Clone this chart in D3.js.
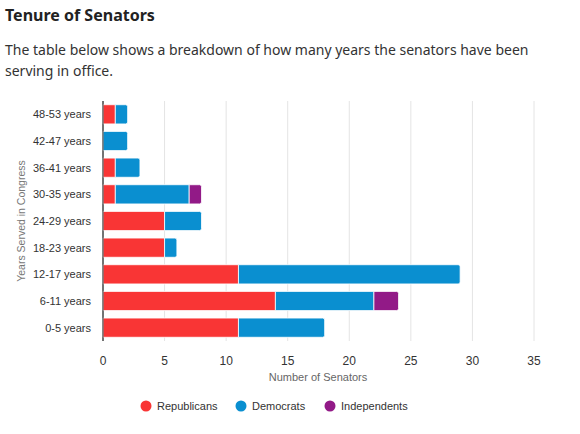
<!DOCTYPE html>
<head>
<meta charset="utf-8">
<script src="https://cdn.jsdelivr.net/npm/d3@7"></script>
<style>
body { margin:0; background:#fff; font-family:"Noto Sans", sans-serif; }
</style>
</head>
<body>
<svg width="580" height="434"></svg>
<script>
var categories = ["48-53 years","42-47 years","36-41 years","30-35 years","24-29 years","18-23 years","12-17 years","6-11 years","0-5 years"];
var republicans = [1,0,1,1,5,5,11,14,11];
var democrats = [1,2,2,6,3,1,18,8,7];
var independents = [0,0,0,1,0,0,0,2,0];
var seriesNames = ["Republicans","Democrats","Independents"];
var colors = ["#f93535","#0a8fd0","#921a87"];
var xTicks = [0,5,10,15,20,25,30,35];

var svg = d3.select("svg");
var rows = categories.map(function(c,i){ return {cat:c, vals:[republicans[i],democrats[i],independents[i]]}; });

svg.append("text").attr("x",5).attr("y",21).text("Tenure of Senators")
  .style("font","bold 16px 'Noto Sans'").style("fill","#222");
svg.append("text").attr("x",5).attr("y",55).text("The table below shows a breakdown of how many years the senators have been")
  .style("font","14px 'Noto Sans'").style("fill","#333");
svg.append("text").attr("x",5).attr("y",76).text("serving in office.")
  .style("font","14px 'Noto Sans'").style("fill","#333");

var x = d3.scaleLinear().domain([0,35]).range([103,534]);
var y = d3.scaleBand().domain(categories).range([101,341]).paddingInner(0.28).paddingOuter(0.14);

var ff = "'Liberation Sans', Arial, sans-serif";
svg.selectAll(".grid").data(xTicks).enter().append("line")
  .attr("x1",function(d){return x(d);}).attr("x2",function(d){return x(d);})
  .attr("y1",101).attr("y2",341)
  .style("stroke",function(d){return d===0?"#444":"#e4e4e4";});

svg.selectAll(".xt").data(xTicks).enter().append("text")
  .attr("x",function(d){return x(d);}).attr("y",365).attr("text-anchor","middle")
  .text(function(d){return d;}).style("font","12px "+ff).style("fill","#333");
svg.append("text").attr("x",318).attr("y",381).attr("text-anchor","middle")
  .text("Number of Senators").style("font","11px "+ff).style("fill","#666");

svg.selectAll(".yt").data(categories).enter().append("text")
  .attr("x",91).attr("y",function(d){return y(d)+y.bandwidth()/2+4;}).attr("text-anchor","end")
  .text(function(d){return d;}).style("font","11px "+ff).style("fill","#333");
svg.append("text").attr("transform","translate(25,221) rotate(-90)").attr("text-anchor","middle")
  .text("Years Served in Congress").style("font","10.5px "+ff).style("fill","#777");

rows.forEach(function(r){
  var acc = 0;
  var last = -1;
  r.vals.forEach(function(v,k){ if(v>0) last=k; });
  r.vals.forEach(function(v,k){
    if(v<=0) return;
    var x0 = x(acc), x1 = x(acc+v), yy = y(r.cat), h = y.bandwidth(), rr = 2;
    var p;
    if(k===last){
      p = "M"+x0+","+yy+"H"+(x1-rr)+"Q"+x1+","+yy+" "+x1+","+(yy+rr)+"V"+(yy+h-rr)+"Q"+x1+","+(yy+h)+" "+(x1-rr)+","+(yy+h)+"H"+x0+"Z";
    } else {
      p = "M"+x0+","+yy+"H"+x1+"V"+(yy+h)+"H"+x0+"Z";
    }
    svg.append("path").attr("d",p).style("fill",colors[k]).style("stroke","#fff").style("stroke-width",0.8);
    acc += v;
  });
});
svg.append("line").attr("x1",x(0)).attr("x2",x(0)).attr("y1",101).attr("y2",341).style("stroke","#444");

var lx = [146,241,330];
seriesNames.forEach(function(n,i){
  svg.append("circle").attr("cx",lx[i]).attr("cy",406).attr("r",5.5).style("fill",colors[i]);
  svg.append("text").attr("x",lx[i]+11).attr("y",410).text(n).style("font","11px "+ff).style("fill","#333");
});
</script>
</body>
</html>
